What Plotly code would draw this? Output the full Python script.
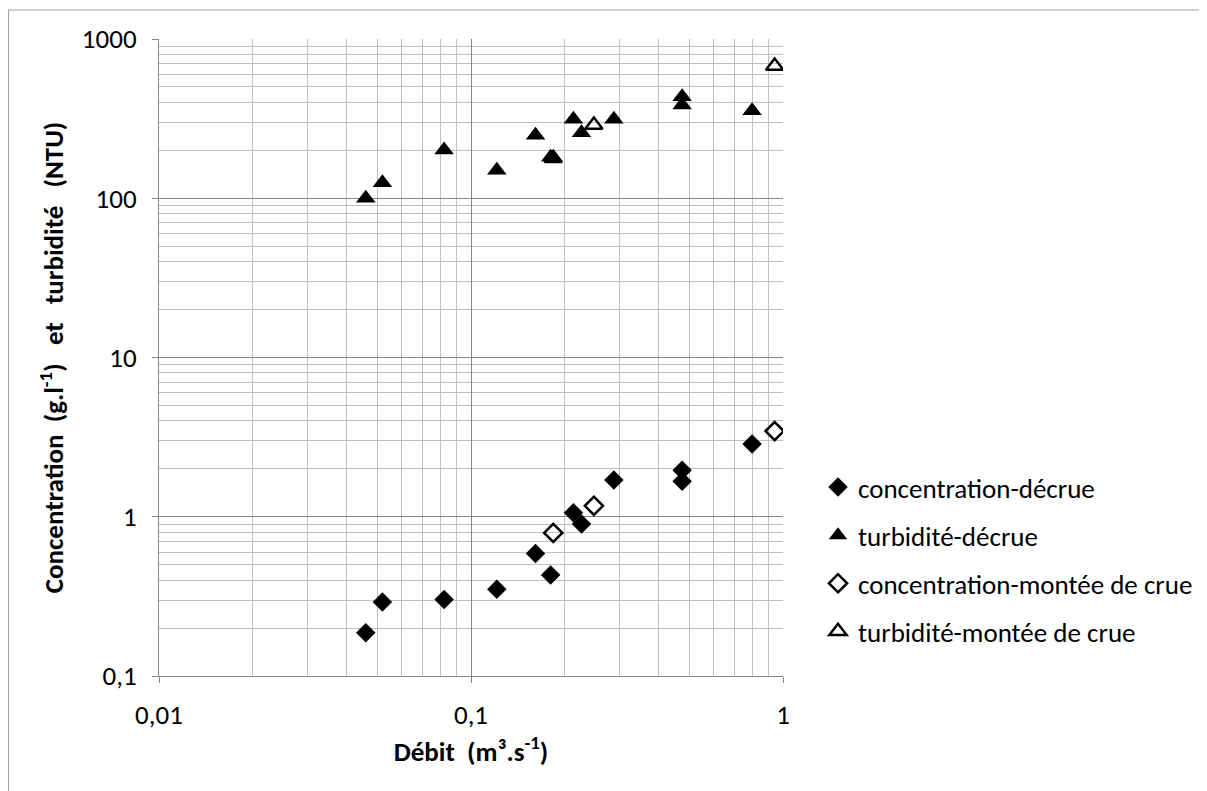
import plotly.graph_objects as go

# ---- data ----
debit_decrue = [0.046, 0.052, 0.082, 0.121, 0.161, 0.180, 0.213, 0.226, 0.287, 0.475, 0.475, 0.796]
conc_decrue = [0.187, 0.292, 0.302, 0.351, 0.588, 0.430, 1.058, 0.899, 1.70, 1.96, 1.67, 2.86]
turb_decrue = [100, 125, 201, 150, 249, 181, 313, 258, 313, 434, 385, 355]

debit_montee = [0.1835, 0.2477, 0.94]
conc_montee = [0.792, 1.172, 3.45]
turb_montee = [178, 288, 677]

x_tickvals = [0.01, 0.1, 1]
x_ticktext = ["0,01", "0,1", "1"]
y_tickvals = [0.1, 1, 10, 100, 1000]
y_ticktext = ["0,1", "1", "10", "100", "1000"]

names = ["concentration-décrue", "turbidité-décrue",
         "concentration-montée de crue", "turbidité-montée de crue"]

FONT = "Carlito, Lato, sans-serif"
FS = 27

x_minor = [m * d for d in [0.01, 0.1] for m in range(2, 10)]
y_minor = [m * d for d in [0.1, 1, 10, 100] for m in range(2, 10)]

fig = go.Figure()

fig.add_trace(go.Scatter(x=debit_decrue, y=conc_decrue, mode="markers", name=names[0],
                         legendgroup="g0",
                         marker=dict(symbol="diamond", size=15, color="black")))
fig.add_trace(go.Scatter(x=debit_decrue, y=turb_decrue, mode="markers", name=names[1],
                         legendgroup="g1",
                         marker=dict(symbol="triangle-up", size=17, color="black")))
fig.add_trace(go.Scatter(x=debit_montee, y=conc_montee, mode="markers", name=names[2],
                         legendgroup="g2",
                         marker=dict(symbol="diamond-open", size=14, color="black",
                                     line=dict(width=2.5, color="black"))))
fig.add_trace(go.Scatter(x=debit_montee, y=turb_montee, mode="markers", name=names[3],
                         legendgroup="g3",
                         marker=dict(symbol="triangle-up-open", size=15, color="black",
                                     line=dict(width=2.5, color="black"))))

axis_col = "#868686"
fig.update_xaxes(type="log", range=[-2, 0], tickvals=x_tickvals, ticktext=x_ticktext,
                 showgrid=True, gridcolor=axis_col, gridwidth=1,
                 showline=True, linecolor=axis_col, linewidth=1,
                 ticks="outside", ticklen=6, tickcolor=axis_col,
                 ticklabelstandoff=9,
                 tickfont=dict(family=FONT, size=FS, color="black"),
                 minor=dict(tickvals=x_minor, showgrid=True, gridcolor="#c0c0c0", gridwidth=1, ticks=""),
                 title=dict(text="<b>Débit&nbsp; (m³.s<sup>-1</sup>)</b>",
                            font=dict(family=FONT, size=FS, color="black"), standoff=10),
                 zeroline=False, automargin=False)
fig.update_yaxes(type="log", range=[-1, 3], tickvals=y_tickvals, ticktext=y_ticktext,
                 showgrid=True, gridcolor=axis_col, gridwidth=1,
                 showline=True, linecolor=axis_col, linewidth=1,
                 ticks="outside", ticklen=6, tickcolor=axis_col,
                 ticklabelstandoff=10,
                 tickfont=dict(family=FONT, size=FS, color="black"),
                 minor=dict(tickvals=y_minor, showgrid=True, gridcolor="#c0c0c0", gridwidth=1, ticks=""),
                 title=dict(text="<b>Concentration&nbsp; (g.l<sup>-1</sup>)&nbsp; &nbsp;et&nbsp; &nbsp;turbidité&nbsp; &nbsp;(NTU)</b>",
                            font=dict(family=FONT, size=FS, color="black"), standoff=10),
                 zeroline=False, automargin=False)

# page has an 8px offset; figure coords = page coords - 8
fig.add_shape(type="rect", xref="paper", yref="paper",
              x0=(0.5 - 151) / 624, x1=2.0,
              y0=-0.5, y1=(668 - 2) / 637,
              line=dict(color="#a0a0a0", width=1), layer="below")

fig.update_layout(
    width=1199, height=783,
    margin=dict(l=151, r=424, t=31, b=115, autoexpand=False),
    paper_bgcolor="white", plot_bgcolor="white",
    font=dict(family=FONT, size=FS, color="black"),
    showlegend=True,
    legend=dict(x=(810 - 151) / 624, xanchor="left", y=(668 - 455) / 637, yanchor="top",
                font=dict(family=FONT, size=FS, color="black"),
                tracegroupgap=10, bgcolor="rgba(0,0,0,0)"),
)

fig.write_html("out.html")
